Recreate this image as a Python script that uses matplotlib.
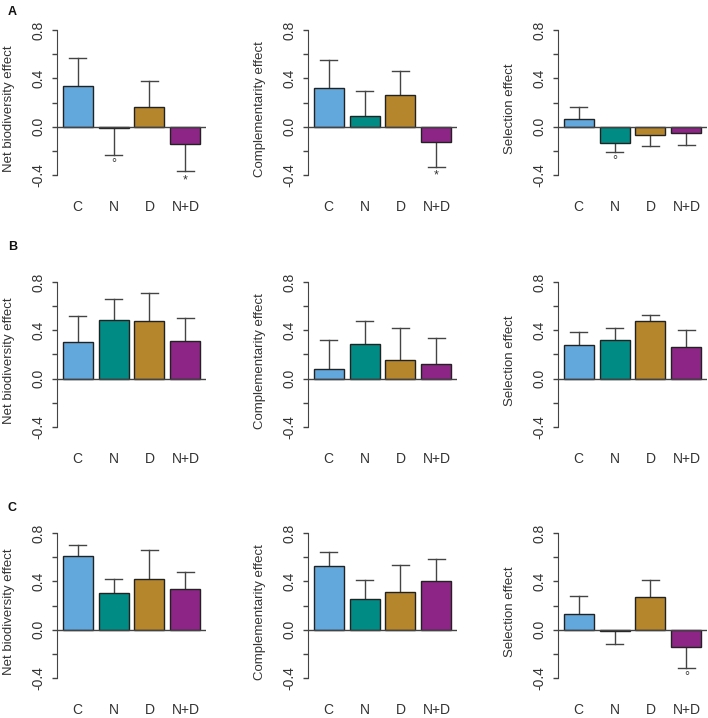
import matplotlib
matplotlib.use("Agg")
import matplotlib.pyplot as plt
import numpy as np

plt.rcParams['font.family'] = ['Liberation Sans', 'DejaVu Sans']

categories = ["C", "N", "D", "N+D"]
colors = ["#62A8DC", "#008B84", "#B5862C", "#8C2585"]
panel_labels = ["A", "B", "C"]
ylabels = ["Net biodiversity effect", "Complementarity effect", "Selection effect"]

# rows A, B, C ; columns: net, complementarity, selection
means_A = [[0.334, -0.012, 0.160, -0.145],
           [0.318, 0.085, 0.263, -0.130],
           [0.063, -0.137, -0.068, -0.055]]
errs_A = [[0.570, -0.235, 0.380, -0.367],
          [0.548, 0.296, 0.460, -0.330],
          [0.162, -0.208, -0.164, -0.150]]
marks_A = [["", "°", "", "*"],
           ["", "", "", "*"],
           ["", "°", "", ""]]

means_B = [[0.300, 0.483, 0.478, 0.310],
           [0.083, 0.283, 0.153, 0.122],
           [0.278, 0.320, 0.475, 0.264]]
errs_B = [[0.520, 0.660, 0.710, 0.505],
          [0.322, 0.480, 0.417, 0.336],
          [0.383, 0.417, 0.530, 0.403]]
marks_B = [["", "", "", ""],
           ["", "", "", ""],
           ["", "", "", ""]]

means_C = [[0.612, 0.306, 0.420, 0.337],
           [0.524, 0.251, 0.314, 0.400],
           [0.132, -0.011, 0.273, -0.143]]
errs_C = [[0.700, 0.420, 0.657, 0.477],
          [0.643, 0.414, 0.535, 0.585],
          [0.280, -0.119, 0.414, -0.320]]
marks_C = [["", "", "", ""],
           ["", "", "", ""],
           ["", "", "", "°"]]

rows = [(means_A, errs_A, marks_A), (means_B, errs_B, marks_B), (means_C, errs_C, marks_C)]

yticks = [-0.4, -0.2, 0.0, 0.2, 0.4, 0.6, 0.8]
ytick_labels = ["-0.4", "", "0.0", "", "0.4", "", "0.8"]

W, H = 708, 718
fig = plt.figure(figsize=(W / 100, H / 100), dpi=100)

col_left = [57, 308, 558]
ax_w = 149
row_top = [24.2, 276.2, 527.2]
ax_h = 156.6
panel_label_y = [12, 247, 508]

txt = "#333333"
linec = "#444444"
centers = np.array([0.7, 1.9, 3.1, 4.3])

for r, (means, errs, marks) in enumerate(rows):
    for c in range(3):
        left = col_left[c] / W
        bottom = (H - row_top[r] - ax_h) / H
        ax = fig.add_axes([left, bottom, ax_w / W, ax_h / H])
        m = means[c]
        e = errs[c]
        ax.bar(centers, m, width=1.0, color=colors, edgecolor="#222222", linewidth=1.0, zorder=3)
        for i in range(4):
            ax.plot([centers[i], centers[i]], [m[i], e[i]], color=linec, lw=1.0, zorder=2)
            ax.plot([centers[i] - 0.27, centers[i] + 0.27], [e[i], e[i]], color=linec, lw=1.0, zorder=2)
            if marks[c][i]:
                yoff = -0.075 if e[i] < 0 else 0.075
                ax.text(centers[i], e[i] + yoff, marks[c][i], ha="center", va="center",
                        fontsize=9, color=txt)
        ax.axhline(0, color=linec, lw=1.0, zorder=4)
        ax.set_xlim(0.016, 4.984)
        ax.set_ylim(-0.448, 0.848)
        for s in ["top", "right", "bottom"]:
            ax.spines[s].set_visible(False)
        ax.spines["left"].set_bounds(-0.4, 0.8)
        ax.spines["left"].set_color(linec)
        ax.set_yticks(yticks)
        ax.set_yticklabels(ytick_labels, rotation=90, va="center", fontsize=10, color=txt)
        ax.tick_params(axis="y", length=3.6, width=1.0, color=linec, pad=5)
        ax.set_xticks(centers)
        ax.set_xticklabels(categories, fontsize=10, color=txt)
        ax.tick_params(axis="x", length=0, pad=14)
        ax.set_ylabel(ylabels[c], fontsize=9.5, color=txt)
        ax.yaxis.set_label_coords(-42 / ax_w, 0.46)
        ax.patch.set_alpha(0)
    fig.text(8 / W, 1 - panel_label_y[r] / H, panel_labels[r], fontsize=9,
             fontweight="bold", ha="left", va="center", color="#111111")

fig.savefig("out.png", dpi=100)
